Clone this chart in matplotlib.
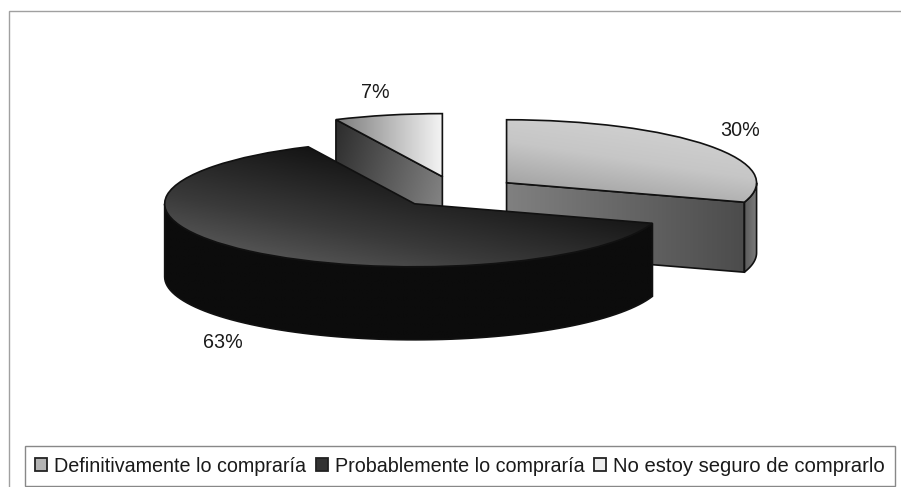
import numpy as np
import matplotlib
matplotlib.use('Agg')
import matplotlib.pyplot as plt
from matplotlib.patches import Patch, Polygon, Rectangle
from matplotlib.colors import LinearSegmentedColormap

plt.rcParams['font.family'] = ['Liberation Sans', 'DejaVu Sans']

labels = ['Definitivamente lo compraría', 'Probablemente lo compraría', 'No estoy seguro de comprarlo']
values = [30, 63, 7]
explode = [0.25, 0.25, 0.25]
legend_colors = ['#b4b4b4', '#333333', '#ececec']
label_pos = [(740, 130), (223, 343), (375, 92)]

W, H = 901, 487
cx, cy = 456, 192   # pie centre in pixels
rx, ry = 250, 63    # squashed radius in pixels
depth = 70 / ry     # wall height in data units
depth_pro = 73 / ry

fig = plt.figure(figsize=(W / 100, H / 100), dpi=100, facecolor='white')
ax = fig.add_axes([0, 0, 1, 1])
wedges, _ = ax.pie(values, explode=explode, startangle=90, counterclock=False,
                   radius=1, frame=True)
ax.set_aspect('auto')
ax.set_xlim(-cx / rx, (W - cx) / rx)
ax.set_ylim((cy - H) / ry, cy / ry)
ax.axis('off')


def shade(patch, colors, angle, z):
    # linear gradient clipped to the patch
    pts = patch.get_path().transformed(patch.get_patch_transform()).vertices
    x0, x1, y0, y1 = pts[:, 0].min(), pts[:, 0].max(), pts[:, 1].min(), pts[:, 1].max()
    u, v = np.meshgrid(np.linspace(0, 1, 120), np.linspace(0, 1, 120))
    g = u * np.cos(np.radians(angle)) + v * np.sin(np.radians(angle))
    g = (g - g.min()) / (g.max() - g.min())
    cmap = LinearSegmentedColormap.from_list('g', colors)
    im = ax.imshow(g, extent=(x0, x1, y0, y1), origin='lower', cmap=cmap, aspect='auto', zorder=z)
    im.set_clip_path(patch)


def wall(points, colors, angle, z, lw=1.2):
    p = Polygon(points, closed=True, facecolor='none', edgecolor='#111111', lw=lw, zorder=z + 0.1)
    ax.add_patch(p)
    shade(p, colors, angle, z)


def outer_wall(w, a0, a1, d, colors, z):
    t = np.radians(np.linspace(a0, a1, 80))
    x = w.center[0] + w.r * np.cos(t)
    y = w.center[1] + w.r * np.sin(t)
    pts = np.r_[np.c_[x, y], np.c_[x[::-1], y[::-1] - d]]
    wall(pts, colors, 0, z)


def cut_face(w, a, colors, angle, z):
    x = w.center[0] + w.r * np.cos(np.radians(a))
    y = w.center[1] + w.r * np.sin(np.radians(a))
    pts = [w.center, (x, y), (x, y - depth), (w.center[0], w.center[1] - depth)]
    wall(pts, colors, angle, z)


w_def, w_pro, w_no = wedges

# back slice first, dark slice last since it overlaps the others
cut_face(w_no, w_no.theta2, ['#8c8c8c', '#2c2c2c'], 160, 2)
cut_face(w_def, w_def.theta1, ['#4c4c4c', '#808080'], 180, 3)
outer_wall(w_def, w_def.theta1, 0, depth, ['#5a5a5a', '#7c7c7c'], 3)
outer_wall(w_pro, -180, w_pro.theta2, depth_pro, ['#0c0c0c', '#0c0c0c'], 5)

tops = [(w_no, ['#7c7c7c', '#f4f4f4'], 0, 4),
        (w_def, ['#969696', '#c6c6c6', '#d6d6d6'], 65, 4.5),
        (w_pro, ['#686868', '#3a3a3a', '#161616', '#0e0e0e'], 50, 6)]
for w, colors, angle, z in tops:
    w.set_facecolor('none')
    w.set_edgecolor('#111111')
    w.set_linewidth(1.2)
    w.set_zorder(z + 0.1)
    shade(w, colors, angle, z)

for v, (x, y) in zip(values, label_pos):
    fig.text(x / W, 1 - y / H, f'{v}%', fontsize=14.2, color='#1a1a1a', ha='center', va='center')

# outer frame, only its top and left edges show in the picture
fig.add_artist(Rectangle((9 / W, -0.05), 1.05, 1.05 - 11 / H, transform=fig.transFigure,
                         fill=False, edgecolor='#a0a0a0', lw=1))

handles = [Patch(facecolor=c, edgecolor='#222222', lw=1.3) for c in legend_colors]
leg = fig.legend(handles, labels, ncol=3, loc='lower left', fontsize=14.2,
                 bbox_to_anchor=(25 / W, 1 - 486 / H, 870 / W, 39 / H), mode='expand',
                 borderaxespad=0, fancybox=False, framealpha=1, edgecolor='#888888',
                 handlelength=0.62, handleheight=0.62, handletextpad=0.35, columnspacing=0.3,
                 labelcolor='#1a1a1a', borderpad=0.52)
leg.get_frame().set_linewidth(1)
leg.get_texts()[2].set_fontsize(14.55)

fig.savefig('out.png', dpi=100)
